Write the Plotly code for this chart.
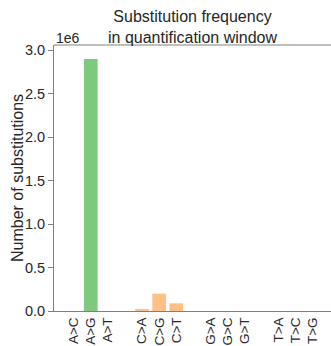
import plotly.graph_objects as go

categories = ["A>C", "A>G", "A>T", "C>A", "C>G", "C>T", "G>A", "G>C", "G>T", "T>A", "T>C", "T>G"]
positions = [0, 1, 2, 4, 5, 6, 8, 9, 10, 12, 13, 14]
counts = [0, 2.9e6, 0, 0.02e6, 0.2e6, 0.088e6, 0, 0, 0, 0, 0, 0]
colors = ["#7FC97F"] * 3 + ["#FDC086"] * 3 + ["#BEAED4"] * 3 + ["#FFFF99"] * 3
ytick_vals = [0, 0.5e6, 1.0e6, 1.5e6, 2.0e6, 2.5e6, 3.0e6]
ytick_text = ["0.0", "0.5", "1.0", "1.5", "2.0", "2.5", "3.0"]

FONT = "Liberation Sans, Arial, sans-serif"
TXT = "#262626"
W, H, L, R, T, B = 331, 346, 54, 0, 45, 35

fig = go.Figure(go.Bar(
    x=positions, y=counts, marker=dict(color=colors, line=dict(width=0)), width=0.8,
))

fig.update_layout(
    width=W, height=H,
    margin=dict(l=L, r=R, t=T, b=B),
    plot_bgcolor="white", paper_bgcolor="white",
    showlegend=False,
    font=dict(family=FONT, color=TXT),
    xaxis=dict(range=[-1.15, 15.05], tickvals=positions, ticktext=categories,
               tickangle=-90, tickfont=dict(size=13.5, color=TXT),
               showline=True, linecolor="#808080", linewidth=1, mirror=False,
               showgrid=False, zeroline=False, ticks="", ticklen=0),
    yaxis=dict(range=[0, 3.06e6], tickvals=ytick_vals, ticktext=ytick_text,
               tickfont=dict(size=14.5, color=TXT),
               showline=True, linecolor="#808080", linewidth=1,
               showgrid=False, zeroline=False, ticks="outside", ticklen=5,
               tickcolor="#808080"),
    shapes=[dict(type="line", xref="paper", yref="paper", x0=0, x1=1, y0=1, y1=1,
                 line=dict(color="#808080", width=1))],
    annotations=[
        dict(text="1e6", xref="paper", yref="paper", x=0.0, y=1.0,
             xanchor="left", yanchor="bottom", showarrow=False, yshift=-3,
             font=dict(size=14, color=TXT)),
        dict(text="Substitution frequency<br>in quantification window",
             xref="paper", yref="paper", x=0.5, y=1.0, xanchor="center", yanchor="bottom",
             showarrow=False, yshift=-3, font=dict(size=16, color=TXT)),
        dict(text="Number of substitutions", textangle=-90,
             xref="paper", yref="paper", x=(17 - L) / (W - L - R), y=0.5,
             xanchor="center", yanchor="middle", showarrow=False,
             font=dict(size=16, color=TXT)),
    ],
)

fig.write_html("out.html")
